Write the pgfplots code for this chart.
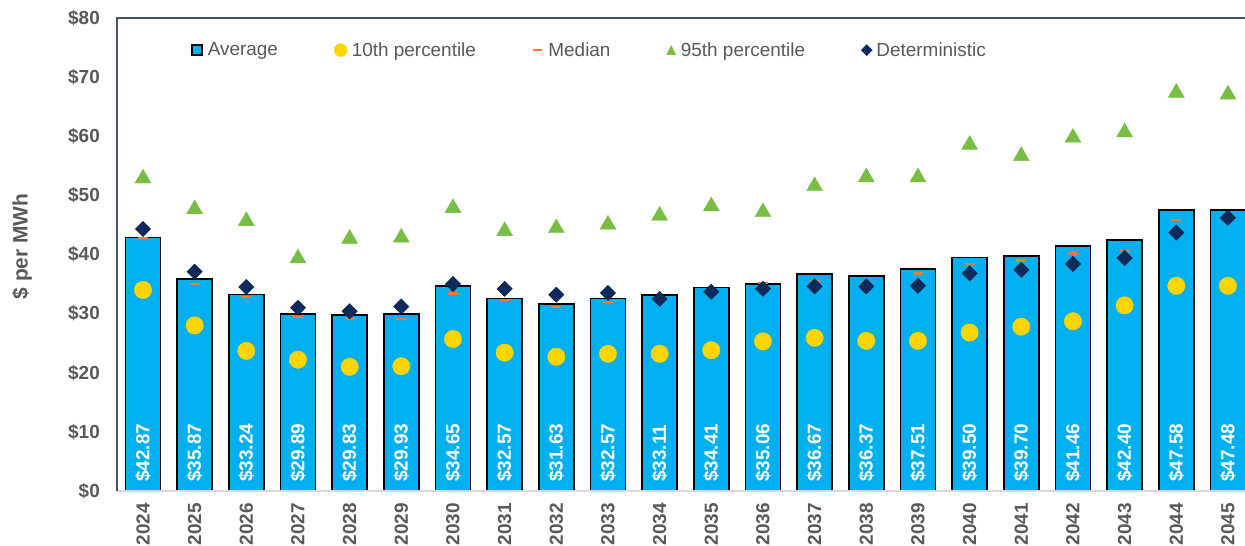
\documentclass[border=0pt]{standalone}
\usepackage{pgfplots}
\pgfplotsset{compat=1.18}
\usepackage{pgfplotstable}
\usepackage{fontspec}
\setmainfont{Liberation Sans}

\definecolor{barblue}{HTML}{00B0F0}
\definecolor{gold}{HTML}{FFD500}
\definecolor{medorange}{HTML}{ED7D31}
\definecolor{trigreen}{HTML}{78BE43}
\definecolor{navy}{HTML}{0C2A5B}
\definecolor{txtgrey}{HTML}{595959}
\definecolor{slate}{HTML}{44546A}
\definecolor{basegrey}{HTML}{D9D9D9}

% x  year  average  base  10th  median  95th  deterministic
\pgfplotstableread{
x  year avg   base p10  med  p95  det
0  2024 42.87 0    34.0 42.8 53.2 44.3
1  2025 35.87 0    28.0 35.0 48.0 37.1
2  2026 33.24 0    23.7 32.8 46.0 34.5
3  2027 29.89 0    22.2 29.5 39.7 31.0
4  2028 29.83 0    21.0 29.1 43.0 30.4
5  2029 29.93 0    21.1 29.1 43.2 31.2
6  2030 34.65 0    25.7 33.4 48.2 35.0
7  2031 32.57 0    23.4 32.3 44.3 34.2
8  2032 31.63 0    22.7 31.1 44.8 33.2
9  2033 32.57 0    23.2 32.0 45.4 33.5
10 2034 33.11 0    23.2 32.7 46.9 32.5
11 2035 34.41 0    23.8 34.0 48.5 33.7
12 2036 35.06 0    25.3 35.2 47.5 34.2
13 2037 36.67 0    25.9 35.5 51.9 34.6
14 2038 36.37 0    25.4 35.3 53.4 34.6
15 2039 37.51 0    25.4 36.8 53.4 34.7
16 2040 39.50 0    26.8 38.4 58.9 36.8
17 2041 39.70 0    27.8 39.0 57.0 37.4
18 2042 41.46 0    28.7 40.2 60.1 38.4
19 2043 42.40 0    31.4 40.6 61.0 39.4
20 2044 47.58 0    34.7 45.8 67.7 43.7
21 2045 47.48 0    34.7 46.3 67.4 46.2
}\prices

\begin{document}
\begin{tikzpicture}
\begin{axis}[
  name=ax,
  width=1128bp, height=473bp, scale only axis,
  xmin=-0.503, xmax=21.33, ymin=0, ymax=80,
  axis line style={draw=none},
  tick style={draw=none},
  xtick=data,
  xticklabels from table={\prices}{year},
  xticklabel style={rotate=90, anchor=east, font=\fontsize{19}{19}\selectfont\bfseries, text=txtgrey, inner sep=0pt},
  xticklabel shift=12bp,
  ytick={0,10,...,80},
  yticklabel={\$\pgfmathprintnumber{\tick}},
  /pgf/number format/assume math mode=true,
  yticklabel style={font=\fontsize{19}{19}\selectfont\bfseries, text=txtgrey, inner sep=0pt},
  yticklabel shift=17bp,
  ylabel={\$ per MWh},
  ylabel style={at={(axis description cs:-0.0842,0.517)}, anchor=center, font=\fontsize{21}{21}\selectfont\bfseries, text=txtgrey},
  legend columns=5,
  legend style={at={(axis description cs:0.0656,0.932)}, anchor=west, draw=none, fill=none, inner sep=0pt,
    font=\fontsize{19}{19}\selectfont, text=txtgrey, cells={inner sep=0pt},
    /tikz/every even column/.append style={column sep=54bp}},
]
\addplot[ybar, bar width=35bp, fill=barblue, draw=black, line width=1.8bp,
  legend image code/.code={\draw[fill=barblue, draw=black, line width=1.4bp] (0bp,-5bp) rectangle (10bp,5bp); \path (13bp,0bp);}]
  table[x=x, y=avg] {\prices};
\addlegendentry{Average}

\addplot[forget plot, draw=none, mark=none, point meta=explicit,
  nodes near coords={\$\pgfmathprintnumber[fixed,fixed zerofill,precision=2]{\pgfplotspointmeta}},
  nodes near coords style={white, font=\fontsize{19}{19}\selectfont\bfseries, rotate=90, anchor=west, inner sep=0pt, xshift=9bp}]
  table[x=x, y=base, meta=avg] {\prices};

\addplot[only marks, mark=*, mark size=8.7bp, color=gold,
  legend image code/.code={\fill[gold] (6bp,0bp) circle (6.5bp); \path (15bp,0bp);}]
  table[x=x, y=p10] {\prices};
\addlegendentry{10th percentile}

\addplot[only marks, mark=-, mark size=5bp, color=medorange, mark options={line width=2.5bp},
  legend image code/.code={\draw[medorange, line width=2.5bp] (0bp,0bp) -- (9bp,0bp); \path (13bp,0bp);}]
  table[x=x, y=med] {\prices};
\addlegendentry{Median}

\addplot[only marks, mark=triangle*, mark size=9.2bp, color=trigreen, mark options={yshift=-2bp},
  legend image code/.code={\fill[trigreen] (0bp,-4.5bp) -- (9bp,-4.5bp) -- (4.5bp,4.5bp) -- cycle; \path (12bp,0bp);}]
  table[x=x, y=p95] {\prices};
\addlegendentry{95th percentile}

\addplot[only marks, mark=square*, mark size=5.4bp, color=navy, mark options={rotate=45, fill=navy, draw=navy!70!black},
  legend image code/.code={\fill[navy] (0bp,0bp) -- (5.5bp,5.5bp) -- (11bp,0bp) -- (5.5bp,-5.5bp) -- cycle; \path (13bp,0bp);}]
  table[x=x, y=det] {\prices};
\addlegendentry{Deterministic}
\end{axis}
\draw[basegrey, line width=1.5bp] (ax.south west) -- (ax.south east);
\draw[slate, line width=1.5bp] (ax.south west) -- (ax.north west) -- (ax.north east);
\pgfresetboundingbox
\path[use as bounding box] ([shift={(-117bp,-55bp)}]ax.south west) rectangle ([shift={(0bp,18bp)}]ax.north east);
\end{tikzpicture}
\end{document}
